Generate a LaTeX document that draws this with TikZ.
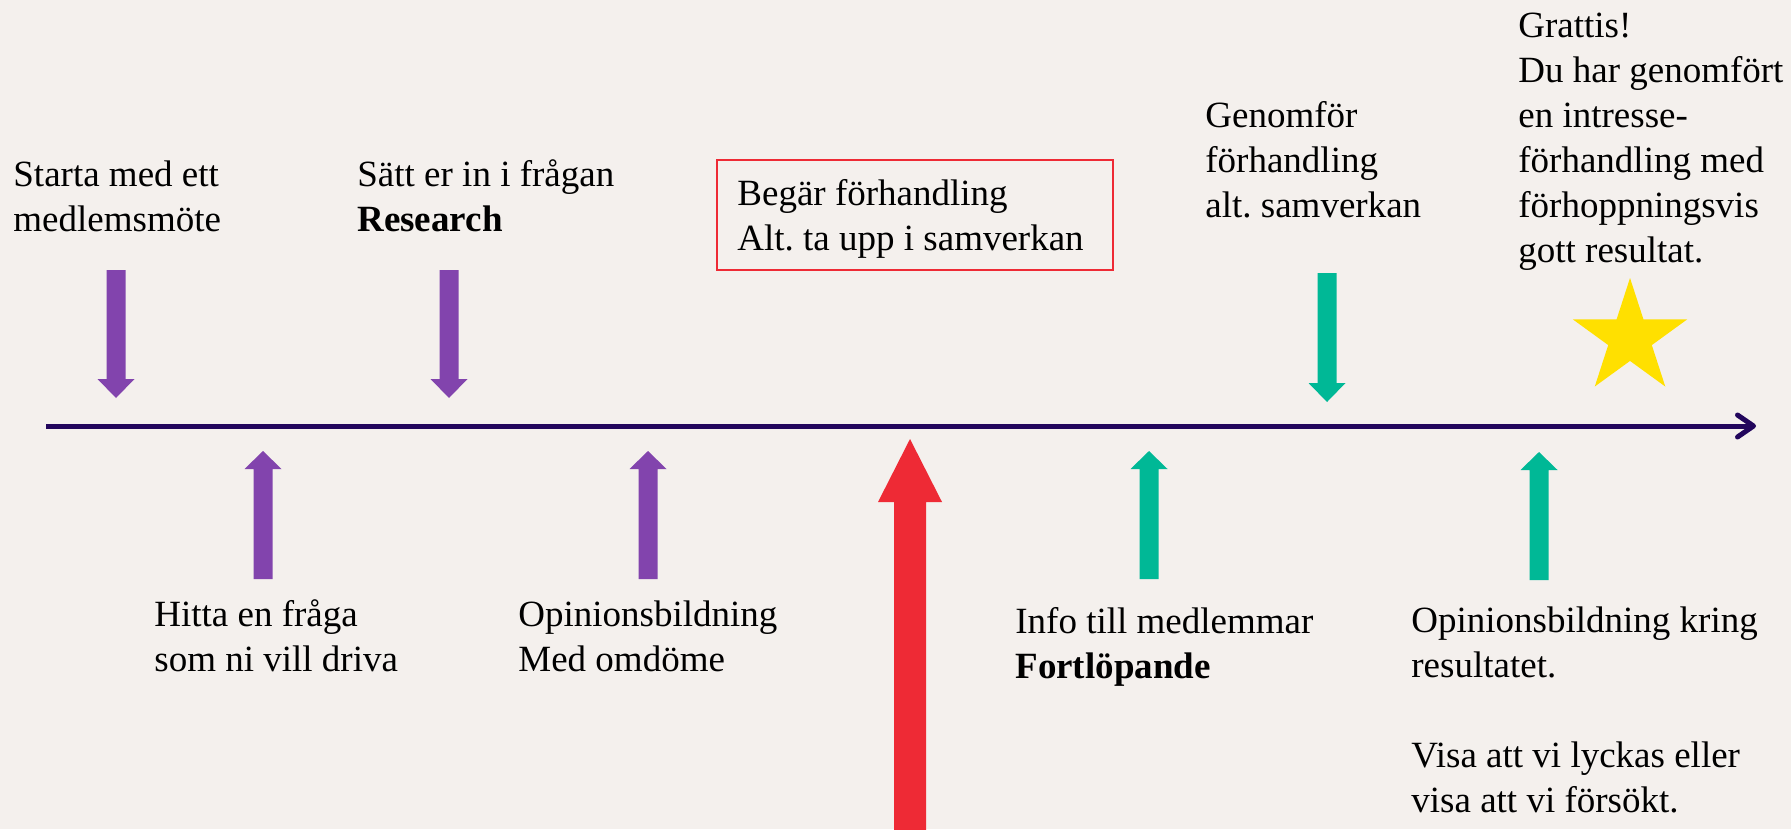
\documentclass[tikz,border=0pt]{standalone}
\usepackage{fontspec}
\setmainfont{Liberation Serif}
\usepackage{tikz}
\usetikzlibrary{arrows.meta}
\usetikzlibrary{shapes.geometric}

\definecolor{bgcol}{RGB}{244,240,237}
\definecolor{linecol}{RGB}{34,6,92}
\definecolor{purp}{RGB}{130,68,173}
\definecolor{teal}{RGB}{0,184,150}
\definecolor{redcol}{RGB}{238,42,53}
\definecolor{starcol}{RGB}{255,224,0}

\newcommand{\blockarrow}[7]{%
  \fill[#1] (#2-#6,#3) -- (#2-#6,#4) -- (#2-#7,#4) -- (#2,#5)
    -- (#2+#7,#4) -- (#2+#6,#4) -- (#2+#6,#3) -- cycle;}

\frenchspacing
\begin{document}
\begin{tikzpicture}[x=0.5pt,y=-0.5pt,
    txt/.style={anchor=base west,align=left,inner sep=0pt,
      font=\fontsize{18.5}{22.5}\selectfont}]
    \fill[bgcol] (0,0) rectangle (1791,829);
    \useasboundingbox (0,0) rectangle (1791,829);

    \coordinate (t0) at (46,426);
    \coordinate (t1) at (1756,426);
    \draw[linecol, line width=2.5pt, -{Straight Barb[round,length=8pt,width=11pt]}] (t0) -- (t1);

    \blockarrow{purp}{116}{270}{379}{398}{9.5}{18.5}
    \blockarrow{purp}{449}{270}{379}{398}{9.5}{18.5}
    \blockarrow{teal}{1327}{273}{383}{402}{9.5}{18.5}
    \blockarrow{purp}{263}{579}{469}{451}{9.5}{18.5}
    \blockarrow{purp}{648}{579}{469}{451}{9.5}{18.5}
    \blockarrow{teal}{1149}{579}{469}{451}{9.5}{18.5}
    \blockarrow{teal}{1539}{580}{470}{452}{9.5}{18.5}
    \blockarrow{redcol}{910}{835}{502}{439}{16}{32}

    \node (star) [star, star points=5, star point ratio=2.618, fill=starcol,
      inner sep=0pt, minimum size=60pt] at (1630,338) {};

    \draw[redcol, line width=1pt] (717,160) rectangle (1113,270);

    % base anchor sits on the last line
    \node (start) [txt] at (13,231) {Starta med ett\\medlemsmöte};
    \node (satt) [txt] at (357,231) {Sätt er in i frågan\\\textbf{Research}};
    \node (begar) [txt] at (737,250) {Begär förhandling\\Alt. ta upp i samverkan};
    \node (genomfor) [txt] at (1205,217) {Genomför\\förhandling\\alt. samverkan};
    \node (grattis) [txt] at (1518,262) {Grattis!\\Du har genomfört\\en intresse-\\förhandling med\\förhoppningsvis\\gott resultat.};
    \node (hitta) [txt] at (154,671) {Hitta en fråga\\som ni vill driva};
    \node (opinion) [txt] at (518,671) {Opinionsbildning\\Med omdöme};
    \node (info) [txt] at (1015,678) {Info till medlemmar\\\textbf{Fortlöpande}};
    \node (resultat) [txt] at (1411,812) {Opinionsbildning kring\\resultatet.\\[22.5pt]Visa att vi lyckas eller\\visa att vi försökt.};
\end{tikzpicture}
\end{document}
